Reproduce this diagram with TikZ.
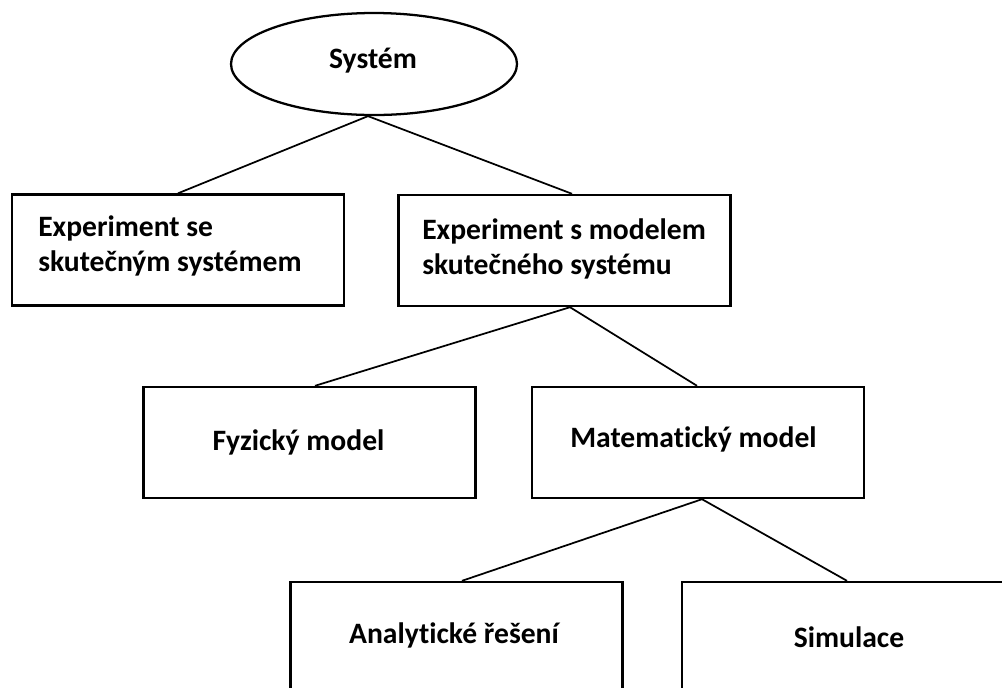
\documentclass[tikz,border=0pt]{standalone}
\usepackage{fontspec}
\setmainfont{Carlito}[Ligatures=NoCommon]
\usetikzlibrary{shapes.geometric,calc}
\begin{document}
% one unit = one pixel of a 1002 x 687 canvas, y pointing down
\begin{tikzpicture}[x=0.75pt,y=-0.75pt,
  box/.style={draw=black,line width=1.8pt,rectangle,inner sep=0pt,
    minimum width=249pt,minimum height=83.25pt},
  oval/.style={draw=black,line width=1.7pt,ellipse,inner sep=0pt,
    minimum width=214.5pt,minimum height=76.5pt},
  txt/.style={font=\fontsize{22.2pt}{26.25pt}\selectfont\bfseries,inner sep=0pt,text=black},
  link/.style={draw=black,line width=1.3pt}]
\useasboundingbox (0,0) rectangle (1002,687);
\clip (0,0) rectangle (1002,687);

% shapes
\node[oval] (sys) at (374,64) {};
\node[box] (real) at (178,250) {};
\node[box] (model) at (564.5,250.5) {};
\node[box] (phys) at (309.5,442.5) {};
\node[box] (math) at (698,442.5) {};
\node[box] (anal) at (456.5,637.5) {};
\node[box] (sim) at (848,637.5) {};

% labels
\node[txt,anchor=base] (tsys) at (373,68) {Systém};
\node[txt,anchor=west,align=left] (treal) at (38,246) {Experiment se\\skutečným systémem};
\node[txt,anchor=west,align=left] (tmodel) at (422,249) {Experiment s modelem\\skutečného systému};
\node[txt,anchor=base] (tphys) at (298.5,450) {Fyzický model};
\node[txt,anchor=base] (tmath) at (693.5,447) {Matematický model};
\node[txt,anchor=base] (tanal) at (454,643) {Analytické řešení};
\node[txt,anchor=base] (tsim) at (849,647) {Simulace};

% connectors
\coordinate (sysfoot) at ($(sys.south)+(-6,0)$);
\draw[link] (sysfoot) -- (real.north);
\draw[link] (sysfoot) -- ($(model.north)+(7.5,0)$);
\coordinate (modelfoot) at ($(model.south)+(5.5,0)$);
\draw[link] (modelfoot) -- ($(phys.north)+(5.5,0)$);
\draw[link] (modelfoot) -- ($(math.north)+(-1,0)$);
\coordinate (mathfoot) at ($(math.south)+(4,0)$);
\draw[link] (mathfoot) -- ($(anal.north)+(5.5,0)$);
\draw[link] (mathfoot) -- ($(sim.north)+(-1,0)$);
\end{tikzpicture}
\end{document}
